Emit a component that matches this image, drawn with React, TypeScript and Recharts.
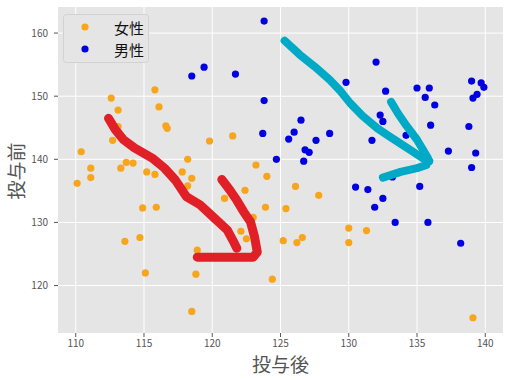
import { CartesianGrid, Label, Scatter, ScatterChart, XAxis, YAxis } from "recharts";

const FONT = '"Noto Sans CJK JP", "Noto Sans", sans-serif';

const seriesNames = ["女性", "男性"];
const seriesColors = ["#f7a51c", "#0000e0"];

// 女性
const femaleX = [
  110.1, 110.4, 111.1, 111.1, 112.6, 113.1, 113.1, 112.7, 115.8, 116.1,
  116.6, 116.7, 113.7, 114.2, 113.3, 115.2, 115.8, 118.2, 117.8, 118.5,
  118.2, 119.8, 121.5, 120.9, 122.4, 123.2, 124.0, 126.1, 127.8, 114.9,
  115.9, 113.6, 114.7, 118.9, 115.1, 118.8, 118.5, 123.9, 125.4, 123.0,
  122.1, 122.5, 125.2, 126.2, 126.6, 124.4, 130.0, 131.3, 130.0, 139.1,
];
const femaleY = [
  136.2, 141.2, 138.6, 137.1, 149.7, 147.8, 145.2, 143.0, 151.0, 148.3,
  145.3, 144.9, 139.5, 139.4, 138.6, 138.0, 137.6, 140.0, 138.0, 137.0,
  135.8, 142.9, 143.7, 133.8, 135.1, 139.1, 137.3, 135.7, 134.3, 132.3,
  132.4, 127.0, 127.6, 125.6, 122.0, 121.8, 115.9, 132.4, 132.2, 130.8,
  128.6, 127.4, 127.1, 126.8, 127.6, 121.0, 129.1, 128.7, 126.8, 114.9,
];

// 男性
const maleX = [
  123.8, 119.4, 118.5, 121.7, 123.8, 126.5, 123.7, 126.0, 125.6, 127.6,
  128.6, 126.8, 127.1, 124.7, 126.7, 132.0, 129.8, 132.7, 135.0, 135.9,
  135.6, 136.3, 139.0, 139.7, 139.9, 139.4, 139.1, 132.3, 132.5, 136.0,
  138.8, 131.7, 134.2, 137.3, 139.3, 139.0, 135.9, 133.2, 130.5, 131.4,
  135.2, 132.5, 131.9, 133.4, 135.8, 138.2,
];
const maleY = [
  161.9, 154.6, 153.2, 153.5, 149.3, 146.2, 144.1, 144.3, 143.2, 143.0,
  144.1, 141.5, 141.1, 140.0, 139.7, 155.4, 152.2, 150.8, 151.3, 151.3,
  149.8, 148.6, 152.4, 152.1, 151.4, 150.3, 149.7, 147.0, 146.0, 145.4,
  145.2, 143.0, 143.8, 141.3, 141.0, 138.7, 139.7, 137.2, 135.6, 135.2,
  135.7, 133.8, 132.4, 130.0, 130.0, 126.7,
];

// hand-drawn arrows, in data units
const redArrowBody: [number, number][] = [
  [112.4, 146.5], [112.9, 144.7], [113.5, 143.1], [114.3, 141.8], [115.6, 140.2],
  [116.5, 138.6], [117.3, 136.7], [118.1, 134.1], [119.1, 132.8], [120.1, 130.8],
  [121.1, 128.8], [121.5, 127.2], [121.8, 125.9],
];
const redArrowHead: [number, number][] = [
  [120.7, 136.8], [121.3, 135.1], [121.8, 133.5], [122.3, 131.7], [122.8, 130.1],
  [123.1, 127.7], [123.3, 125.3], [123.0, 124.5], [118.9, 124.5],
];
const cyanArrowBody: [number, number][] = [
  [125.3, 158.8], [126.4, 156.6], [127.5, 154.7], [128.6, 152.6], [129.4, 150.8],
  [130.1, 148.9], [131.0, 146.9], [132.1, 144.9], [133.0, 143.6], [134.5, 141.5],
  [135.4, 140.2], [135.9, 139.7],
];
const cyanArrowHead: [number, number][] = [
  [133.1, 149.1], [133.6, 147.3], [134.2, 145.4], [135.0, 143.1], [135.8, 140.2],
  [135.7, 139.1], [135.0, 138.6], [133.8, 138.0], [132.5, 137.1],
];

const xTicks = [110, 115, 120, 125, 130, 135, 140];
const yTicks = [120, 130, 140, 150, 160];

const toPoints = (xs: number[], ys: number[]) => xs.map((x, i) => ({ x, y: ys[i] }));
const fromPairs = (pairs: [number, number][]) => pairs.map(([x, y]) => ({ x, y }));

const seriesData = [toPoints(femaleX, femaleY), toPoints(maleX, maleY)];

const arrows = [
  { data: redArrowBody, color: "#e01f26", width: 9 },
  { data: redArrowHead, color: "#e01f26", width: 9 },
  { data: cyanArrowBody, color: "#00a9c6", width: 8 },
  { data: cyanArrowHead, color: "#00a9c6", width: 8 },
];

const dot = (color: string) => (props: any) => (
  <circle cx={props.cx} cy={props.cy} r={3.6} fill={color} />
);

const noShape = () => <g />;

export default function App() {
  return (
    <div style={{ position: "absolute", left: 0, top: 0, width: 510, height: 380 }}>
      <ScatterChart width={510} height={380} margin={{ top: 7, right: 7, left: 0, bottom: 0 }}>
        <CartesianGrid
          fill="#e5e5e5"
          stroke="#ffffff"
          strokeWidth={1}
          horizontalValues={yTicks}
          verticalValues={xTicks}
        />
        <XAxis
          type="number"
          dataKey="x"
          domain={[108.7, 141.3]}
          ticks={xTicks}
          allowDataOverflow
          interval={0}
          axisLine={false}
          tickLine={{ stroke: "#555" }}
          tickSize={4}
          tickMargin={3}
          height={47}
          tick={{ fontSize: 10, fill: "#555", fontFamily: FONT }}
        >
          <Label
            value="投与後"
            position="insideBottom"
            offset={8}
            style={{ fontSize: 19, fill: "#555", fontFamily: FONT }}
          />
        </XAxis>
        <YAxis
          type="number"
          dataKey="y"
          domain={[112.48, 164.13]}
          ticks={yTicks}
          allowDataOverflow
          interval={0}
          axisLine={false}
          tickLine={{ stroke: "#555" }}
          tickSize={4}
          tickMargin={6}
          width={58}
          tick={{ fontSize: 10, fill: "#555", fontFamily: FONT }}
          label={{
            content: (props: any) => {
              const vb = props.viewBox || { x: 0, y: 7, height: 326 };
              const cx = vb.x + 15;
              const cy = vb.y + vb.height / 2 + 1;
              return (
                <text
                  x={cx}
                  y={cy}
                  transform={`rotate(-90 ${cx} ${cy})`}
                  textAnchor="middle"
                  dominantBaseline="central"
                  style={{ fontSize: 19, fill: "#555", fontFamily: FONT }}
                >
                  投与前
                </text>
              );
            },
          }}
        />
        {seriesData.map((d, i) => (
          <Scatter
            key={seriesNames[i]}
            name={seriesNames[i]}
            data={d}
            fill={seriesColors[i]}
            shape={dot(seriesColors[i])}
            isAnimationActive={false}
          />
        ))}
        {arrows.map((a, i) => (
          <Scatter
            key={"arrow" + i}
            data={fromPairs(a.data)}
            fill={a.color}
            line={{
              stroke: a.color,
              strokeWidth: a.width,
              strokeLinecap: "round",
              strokeLinejoin: "round",
            }}
            lineType="joint"
            shape={noShape}
            isAnimationActive={false}
          />
        ))}
      </ScatterChart>
      <svg
        width={86}
        height={49}
        style={{ position: "absolute", left: 63, top: 14, overflow: "visible" }}
      >
        <rect x={0.5} y={0.5} width={85} height={48} rx={3} fill="#e5e5e5" stroke="#d2d2d2" />
        {seriesNames.map((name, i) => (
          <g key={name}>
            <circle cx={22} cy={13 + i * 22} r={3.6} fill={seriesColors[i]} />
            <text
              x={51}
              y={13 + i * 22}
              dominantBaseline="central"
              style={{ fontSize: 15, fill: "#111", fontFamily: FONT }}
            >
              {name}
            </text>
          </g>
        ))}
      </svg>
    </div>
  );
}
